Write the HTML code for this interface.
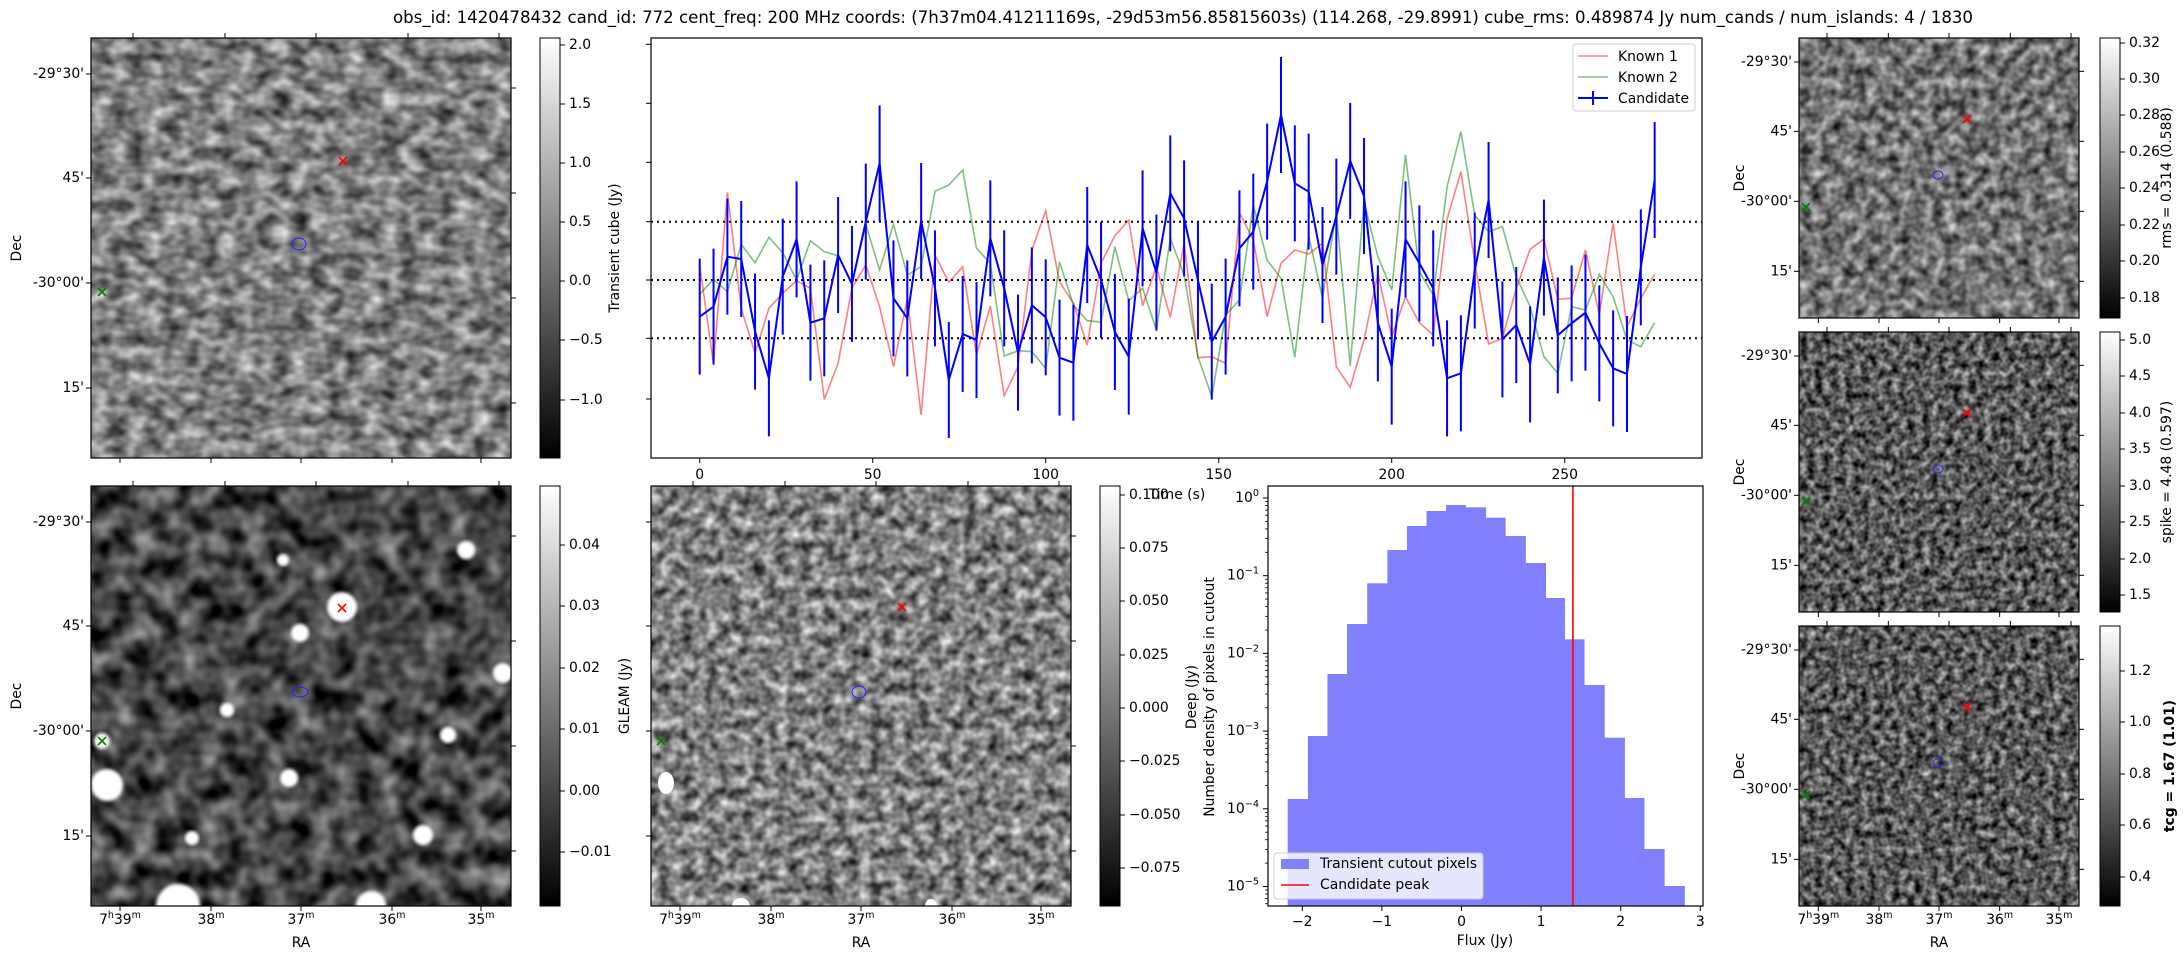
<!DOCTYPE html>
<html><head><meta charset="utf-8">
<style>
html,body{margin:0;padding:0;background:#fff;}
svg{display:block;font-family:"DejaVu Sans","Liberation Sans",sans-serif;}
text{font-size:13.9px;fill:#000;}
filter{color-interpolation-filters:sRGB;}
</style></head>
<body>
<svg id="s" xmlns="http://www.w3.org/2000/svg" width="2184" height="960" viewBox="0 0 2184 960">
<defs>
<linearGradient id="cb" x1="0" y1="1" x2="0" y2="0"><stop offset="0" stop-color="#000"/><stop offset="1" stop-color="#fff"/></linearGradient>
<filter id="fTL" color-interpolation-filters="sRGB" filterUnits="userSpaceOnUse" x="91" y="38" width="420" height="420"><feTurbulence type="fractalNoise" baseFrequency="0.055 0.075" numOctaves="2" seed="3"/><feColorMatrix type="matrix" values="1.0 0 0 0 0  1.0 0 0 0 0  1.0 0 0 0 0  0 0 0 0 1"/></filter>
<filter id="fBL" color-interpolation-filters="sRGB" filterUnits="userSpaceOnUse" x="91" y="486" width="420" height="420"><feTurbulence type="fractalNoise" baseFrequency="0.045" numOctaves="2" seed="7"/><feColorMatrix type="matrix" values="1.0 0 0 0 -0.22  1.0 0 0 0 -0.22  1.0 0 0 0 -0.22  0 0 0 0 1"/></filter>
<filter id="fBM" color-interpolation-filters="sRGB" filterUnits="userSpaceOnUse" x="651" y="486" width="420" height="420"><feTurbulence type="fractalNoise" baseFrequency="0.085" numOctaves="2" seed="11"/><feColorMatrix type="matrix" values="1.1 0 0 0 -0.05  1.1 0 0 0 -0.05  1.1 0 0 0 -0.05  0 0 0 0 1"/></filter>
<filter id="fR1" color-interpolation-filters="sRGB" filterUnits="userSpaceOnUse" x="1799" y="38" width="280" height="280"><feTurbulence type="fractalNoise" baseFrequency="0.09" numOctaves="2" seed="5"/><feColorMatrix type="matrix" values="1.0 0 0 0 -0.05  1.0 0 0 0 -0.05  1.0 0 0 0 -0.05  0 0 0 0 1"/></filter>
<filter id="fR2" color-interpolation-filters="sRGB" filterUnits="userSpaceOnUse" x="1799" y="332" width="280" height="280"><feTurbulence type="fractalNoise" baseFrequency="0.13" numOctaves="2" seed="9"/><feColorMatrix type="matrix" values="1.1 0 0 0 -0.2  1.1 0 0 0 -0.2  1.1 0 0 0 -0.2  0 0 0 0 1"/></filter>
<filter id="fR3" color-interpolation-filters="sRGB" filterUnits="userSpaceOnUse" x="1799" y="626" width="280" height="280"><feTurbulence type="fractalNoise" baseFrequency="0.13" numOctaves="2" seed="13"/><feColorMatrix type="matrix" values="1.1 0 0 0 -0.2  1.1 0 0 0 -0.2  1.1 0 0 0 -0.2  0 0 0 0 1"/></filter>
<filter id="blur"><feGaussianBlur stdDeviation="1.5"/></filter>
<clipPath id="cbl"><rect x="91" y="486" width="420" height="420"/></clipPath>
<clipPath id="cbm"><rect x="651" y="486" width="420" height="420"/></clipPath>
</defs>
<text x="393" y="23" style="font-size:16.7px" textLength="1580" lengthAdjust="spacingAndGlyphs">obs_id: 1420478432 cand_id: 772 cent_freq: 200 MHz coords: (7h37m04.41211169s, -29d53m56.85815603s) (114.268, -29.8991) cube_rms: 0.489874 Jy num_cands / num_islands: 4 / 1830</text>
<g id="g"></g>
</svg>
<script>
var NS="http://www.w3.org/2000/svg",G=document.getElementById("g");
function el(t,a,txt){var e=document.createElementNS(NS,t);for(var k in a)e.setAttribute(k,a[k]);if(txt!==undefined)e.textContent=txt;G.appendChild(e);return e;}
function line(x1,y1,x2,y2,c,w,extra){var a={x1:x1,y1:y1,x2:x2,y2:y2,stroke:c||"#000","stroke-width":w||1};for(var k in extra)a[k]=extra[k];return el("line",a);}
function txt(x,y,s,anchor,extra){var a={x:x,y:y,"text-anchor":anchor||"start","dominant-baseline":"central"};for(var k in extra)a[k]=extra[k];return el("text",a,s);}
function ra(x,y,h,m){var t=el("text",{x:x,y:y,"text-anchor":"middle","dominant-baseline":"central"});
 if(h){var a=document.createElementNS(NS,"tspan");a.textContent="7";t.appendChild(a);var b=document.createElementNS(NS,"tspan");b.setAttribute("dy","-5");b.setAttribute("style","font-size:9.5px");b.textContent="h";t.appendChild(b);var c=document.createElementNS(NS,"tspan");c.setAttribute("dy","5");c.textContent=m;t.appendChild(c);}
 else{var c=document.createElementNS(NS,"tspan");c.textContent=m;t.appendChild(c);}
 var d=document.createElementNS(NS,"tspan");d.setAttribute("dy","-5");d.setAttribute("style","font-size:9.5px");d.textContent="m";t.appendChild(d);}
function xm(x,y,c){line(x-4,y-4,x+4,y+4,c,1.6);line(x-4,y+4,x+4,y-4,c,1.6);}
function image(x,y,s,f,base){
 el("rect",{x:x,y:y,width:s,height:s,fill:base});
 el("rect",{x:x,y:y,width:s,height:s,filter:"url(#"+f+")"});
}
function frame(x,y,s,showRA,showDec){
 el("rect",{x:x,y:y,width:s,height:s,fill:"none",stroke:"#000","stroke-width":1.2});
 var k=s/420;
 [42,134,225,317,408].forEach(function(d){line(x+d*k,y,x+d*k,y-5);});
 [29,120,210,301,390].forEach(function(d){line(x+d*k,y+s,x+d*k,y+s+5);});
 [50,155,260,365].forEach(function(d){line(x+s,y+d*k,x+s+5,y+d*k);});
 var dl=["-29°30'","45'","-30°00'","15'"];
 [36,140,245,350].forEach(function(d,i){line(x,y+d*k,x-5,y+d*k);if(showDec)txt(x-7,y+d*k,dl[i],"end");});
 if(showRA){var ms=["39","38","37","36","35"];[29,120,210,301,390].forEach(function(d,i){ra(x+d*k,y+s+14,i==0,ms[i]);});
  txt(x+s/2,y+s+37,"RA","middle");}
 if(showDec)txt(0,0,"Dec","middle",{transform:"translate("+(x-74*Math.min(1,k*1.2))+","+(y+s/2)+") rotate(-90)"});
}
function cbar(x,y,h,ticks,label,lx,bold){
 el("rect",{x:x,y:y,width:20,height:h,fill:"url(#cb)",stroke:"#000","stroke-width":1});
 ticks.forEach(function(t){line(x+20,t[1],x+25,t[1]);txt(x+29,t[1],t[0],"start");});
 var a={transform:"translate("+lx+","+(y+h/2)+") rotate(-90)"};if(bold)a["font-weight"]="bold";
 txt(0,0,label,"middle",a);
}
image(91,38,420,"fTL","#777");
el("ellipse",{cx:299,cy:244,rx:7,ry:6,fill:"none",stroke:"#22f","stroke-width":1});xm(343,161,"red");xm(102,292,"green");
frame(91,38,420,false,true);
cbar(540,38,420,[["2.0",45],["1.5",104],["1.0",163],["0.5",222],["0.0",281],["\u22120.5",340],["\u22121.0",400]],"Transient cube (Jy)",615);

image(91,486,420,"fBL","#333");
var blobs=[[342,607,15],[300,633,9],[466,550,9],[503,673,10],[107,785,16],[289,778,9],[227,710,7],[423,835,10],[192,838,7],[178,906,22],[371,906,15],[283,560,6],[448,735,8],[102,741,8]];
blobs.forEach(function(b){el("circle",{cx:b[0],cy:b[1],r:b[2],fill:"#fff",filter:"url(#blur)","clip-path":"url(#cbl)"});});
el("ellipse",{cx:300,cy:692,rx:8,ry:5,fill:"none",stroke:"#22f","stroke-width":1});xm(342,608,"red");xm(102,741,"green");
frame(91,486,420,true,true);
cbar(540,486,420,[["0.04",545],["0.03",606],["0.02",668],["0.01",729],["0.00",791],["\u22120.01",852]],"GLEAM (Jy)",625);

image(651,486,420,"fBM","#7a7a7a");
el("ellipse",{cx:666,cy:783,rx:8,ry:11,fill:"#fff"});el("ellipse",{cx:741,cy:906,rx:9,ry:8,fill:"#fff","clip-path":"url(#cbm)"});el("ellipse",{cx:931,cy:906,rx:6,ry:7,fill:"#fff","clip-path":"url(#cbm)"});
el("ellipse",{cx:859,cy:692,rx:7,ry:6,fill:"none",stroke:"#22f","stroke-width":1});xm(902,607,"red");xm(661,741,"green");
frame(651,486,420,true,false);
cbar(1100,486,420,[["0.100",495],["0.075",548],["0.050",601],["0.025",655],["0.000",708],["\u22120.025",761],["\u22120.050",815],["\u22120.075",868]],"",0);

var R=[[38,"fR1","#6e6e6e"],[332,"fR2","#4a4a4a"],[626,"fR3","#4a4a4a"]];
R.forEach(function(r,i){image(1799,r[0],280,r[1],r[2]);
 el("ellipse",{cx:1938,cy:r[0]+137,rx:5,ry:4,fill:"none",stroke:"#22f","stroke-width":1});xm(1967,r[0]+81,"red");xm(1806,r[0]+169,"green");
 frame(1799,r[0],280,i==2,true);});
cbar(2100,38,280,[["0.32",43],["0.30",79],["0.28",115],["0.26",152],["0.24",188],["0.22",225],["0.20",261],["0.18",298]],"rms = 0.314 (0.588)",2167);
cbar(2100,332,280,[["5.0",340],["4.5",376],["4.0",413],["3.5",449],["3.0",486],["2.5",522],["2.0",559],["1.5",595]],"spike = 4.48 (0.597)",2167);
cbar(2100,626,280,[["1.2",671],["1.0",722],["0.8",774],["0.6",825],["0.4",877]],"tcg = 1.67 (1.01)",2170,true);

el("rect",{x:651,y:38,width:1051,height:420,fill:"#fff",stroke:"#000","stroke-width":1.2});
[44.3,103.3,162.3,221.7,280,338.3,399].forEach(function(y){line(651,y,646,y);});
[0,50,100,150,200,250].forEach(function(t){var x=699.7+3.46*t;line(x,458,x,463);txt(x,475,String(t),"middle");});
txt(1177,495,"Time (s)","middle");
[221.7,280,338.3].forEach(function(y){line(651,y,1702,y,"#000",2,{"stroke-dasharray":"2,4"});});
var B=[860,830,680,687,905,1045,740,628,878,865,675,762,575,400,805,865,573,775,1050,912,930,625,775,968,826,862,983,998,645,750,906,980,595,728,490,565,750,935,860,655,605,455,255,460,485,705,560,393,498,880,1010,628,700,775,1045,1030,722,510,928,885,1003,683,916,880,848,940,1015,1032,712,450];
var Rd=[705,1003,487,835,970,835,790,752,775,1108,1000,775,705,830,1010,805,1155,675,757,710,975,828,1097,1010,660,542,755,820,945,700,617,570,827,710,862,640,983,980,1000,548,630,860,700,660,672,640,1010,1072,930,730,920,800,878,915,567,425,695,942,925,775,658,627,808,805,660,855,580,890,805,732];
var Gr=[793,748,785,643,698,622,668,750,632,665,677,760,583,720,583,735,710,484,465,420,655,700,978,962,965,1015,695,825,872,876,650,812,775,900,625,735,980,1100,855,810,525,690,745,982,617,805,545,1008,515,680,780,375,725,795,470,305,555,605,590,740,830,980,1030,830,840,733,800,930,950,878];
function pts(a){return a.map(function(v,i){return (699.7+3.46*4*i).toFixed(1)+","+(30+v/3).toFixed(1);}).join(" ");}
el("polyline",{points:pts(Rd),fill:"none",stroke:"red","stroke-opacity":0.5,"stroke-width":1.6});
el("polyline",{points:pts(Gr),fill:"none",stroke:"green","stroke-opacity":0.5,"stroke-width":1.6});
B.forEach(function(v,i){var x=699.7+13.84*i,y=30+v/3;line(x,y-58,x,y+58,"#00f",2);});
el("polyline",{points:pts(B),fill:"none",stroke:"#00f","stroke-width":2});
el("rect",{x:1573,y:44,width:122,height:67,rx:3,fill:"#fff","fill-opacity":0.8,stroke:"#ccc"});
line(1578,56,1608,56,"red",1.6,{"stroke-opacity":0.5});txt(1618,57,"Known 1");
line(1578,77,1608,77,"green",1.6,{"stroke-opacity":0.5});txt(1618,78,"Known 2");
line(1578,98,1608,98,"#00f",2);line(1593,91,1593,105,"#00f",2);txt(1618,99,"Candidate");

var E=[139,171,202,233,265,297,328,359,390,421,453,484,516,548,578,609,641,673,704,736,768];
var T=[987,798,612,462,340,240,168,123,105,112,143,198,279,384,508,645,803,984,1137,1248];
for(var i=0;i<20;i++){var x1=1200+E[i]/1.585,x2=1200+E[i+1]/1.585,y=470+T[i]/3;el("rect",{x:x1,y:y,width:x2-x1+0.3,height:906-y,fill:"#8080ff"});}
line(1572.9,486,1572.9,906,"red",1.6);
el("rect",{x:1268,y:486,width:435,height:420,fill:"none",stroke:"#000","stroke-width":1.2});
[-2,-1,0,1,2,3].forEach(function(v){var x=1461.5+79.6*v;line(x,906,x,911);txt(x,922,v<0?"\u2212"+(-v):String(v),"middle");});
txt(1485,941,"Flux (Jy)","middle");
for(var d=0;d<=5;d++){var y=498+77.7*d;line(1268,y,1263,y);
 var t=el("text",{x:1259,y:y+4,"text-anchor":"end"});var a=document.createElementNS(NS,"tspan");a.textContent="10";t.appendChild(a);var b=document.createElementNS(NS,"tspan");b.setAttribute("dy","-6");b.setAttribute("style","font-size:9.7px");b.textContent=d==0?"0":"\u2212"+d;t.appendChild(b);
 for(var m=2;m<10;m++){var ym=y+77.7*(1-Math.log10(m));if(ym>486&&ym<906)line(1268,ym,1265,ym,"#000",0.8);}}
txt(0,0,"Deep (Jy)","middle",{transform:"translate(1192,697) rotate(-90)"});
txt(0,0,"Number density of pixels in cutout","middle",{transform:"translate(1210,697) rotate(-90)"});
el("rect",{x:1274,y:853,width:209,height:46,rx:3,fill:"#fff","fill-opacity":0.8,stroke:"#ccc"});
el("rect",{x:1281,y:859,width:28,height:10,fill:"#8080ff"});txt(1320,864,"Transient cutout pixels");
line(1281,885,1309,885,"red",1.6);txt(1320,885,"Candidate peak");
</script>
</body></html>
